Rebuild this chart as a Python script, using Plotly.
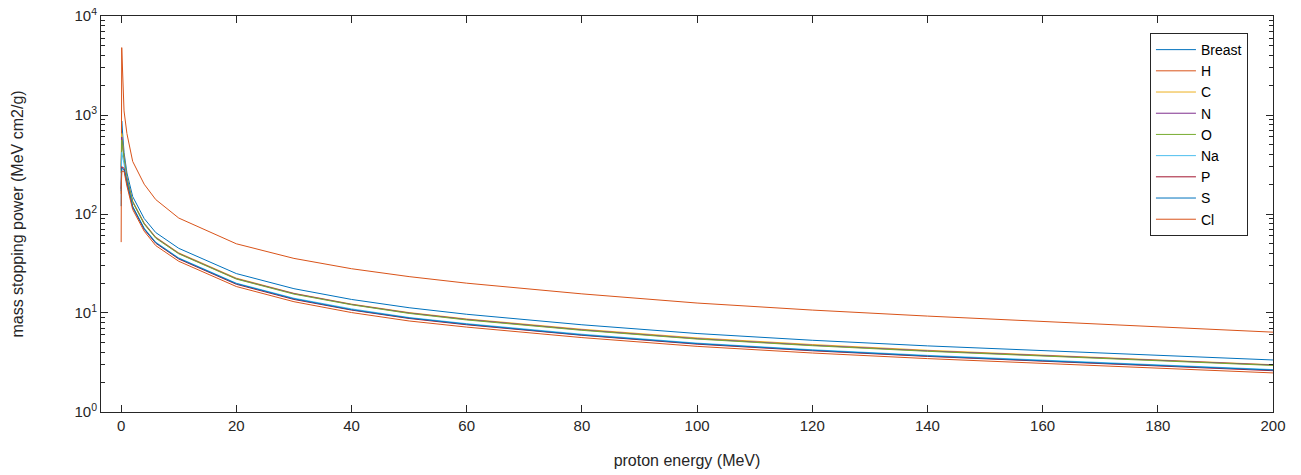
import plotly.graph_objects as go

energy = [0.001, 0.1, 0.5, 1, 2, 4, 6, 10, 20, 30, 40, 50, 60, 80, 100, 120, 140, 160, 180, 200]

names = ['Breast', 'H', 'C', 'N', 'O', 'Na', 'P', 'S', 'Cl']
breast = [120, 870, 420, 260, 150, 90, 65, 45, 25, 17.6, 13.7, 11.3, 9.7, 7.6, 6.2, 5.3, 4.65, 4.15, 3.72, 3.35]
h = [52, 4800, 1100, 650, 340, 200, 140, 91, 50, 35.6, 28, 23.3, 20.0, 15.6, 12.6, 10.7, 9.3, 8.2, 7.3, 6.4]
c = [300, 650, 380, 234, 135, 81, 58.5, 40.5, 22.5, 15.8, 12.3, 10.1, 8.7, 6.85, 5.6, 4.8, 4.2, 3.75, 3.35, 3.0]
n = [280, 600, 370, 231, 133, 80, 57.8, 40, 22.2, 15.7, 12.2, 10.0, 8.6, 6.75, 5.5, 4.72, 4.14, 3.7, 3.31, 2.98]
o = [260, 560, 360, 229, 132, 79, 57, 39.6, 22, 15.5, 12.1, 9.9, 8.5, 6.68, 5.45, 4.67, 4.1, 3.66, 3.27, 2.95]
na = [200, 420, 320, 208, 120, 72, 52, 36, 20, 14.1, 11.0, 9.0, 7.8, 6.1, 4.96, 4.25, 3.73, 3.33, 2.98, 2.68]
p = [180, 300, 290, 203, 117, 70, 50.7, 35.1, 19.5, 13.7, 10.7, 8.8, 7.6, 5.95, 4.84, 4.15, 3.64, 3.25, 2.9, 2.61]
s = [170, 290, 280, 205, 118.5, 71, 51.4, 35.6, 19.8, 13.9, 10.8, 8.9, 7.7, 6.0, 4.9, 4.2, 3.68, 3.29, 2.94, 2.65]
cl = [160, 270, 270, 192, 111, 67, 48, 33.3, 18.5, 13.0, 10.1, 8.3, 7.2, 5.64, 4.6, 3.94, 3.46, 3.08, 2.76, 2.48]
series = [breast, h, c, n, o, na, p, s, cl]

# matlab default line colours
colors = ['#0072BD', '#D95319', '#EDB120', '#7E2F8E', '#77AC30',
          '#4DBEEE', '#A2142F', '#0072BD', '#D95319']

y_ticks = [1, 10, 100, 1000, 10000]
y_minor = [m * 10 ** k for k in range(4) for m in range(2, 10)]

fig = go.Figure()
for name, vals, col in zip(names, series, colors):
    fig.add_trace(go.Scatter(x=energy, y=vals, name=name, mode='lines',
                             line=dict(color=col, width=1)))

axis_style = dict(showline=True, linecolor='#262626', linewidth=1, mirror='ticks',
                  ticks='inside', tickcolor='#262626', showgrid=False, zeroline=False,
                  automargin=False, tickfont=dict(size=15, color='#262626'))

fig.update_xaxes(range=[-3.5, 200], tickvals=list(range(0, 201, 20)), ticklen=7,
                 title=dict(text='proton energy (MeV)', font=dict(size=16, color='#262626'), standoff=21),
                 **axis_style)
fig.update_yaxes(type='log', range=[-0.0005, 4.0005], tickvals=y_ticks,
                 ticktext=['10<sup>0</sup>', '10<sup>1</sup>', '10<sup>2</sup>', '10<sup>3</sup>', '10<sup>4</sup>'],
                 ticklabeloverflow='allow',
                 ticklen=7, minor=dict(ticks='inside', ticklen=4, tickcolor='#262626',
                                       tickvals=y_minor, showgrid=False),
                 title=dict(text='mass stopping power (MeV cm2/g)', font=dict(size=16, color='#262626'), standoff=46),
                 **axis_style)

fig.update_layout(
    width=1301, height=475,
    margin=dict(l=93, r=36, t=8, b=71, autoexpand=False),
    plot_bgcolor='white', paper_bgcolor='white',
    font=dict(family='Liberation Sans, Arial', color='#262626'),
    legend=dict(x=0.895, y=0.957, xanchor='left', yanchor='top',
                bgcolor='white', bordercolor='#262626', borderwidth=1,
                font=dict(size=14, color='black'), tracegroupgap=0, itemwidth=40),
)

fig.write_html("out.html")
